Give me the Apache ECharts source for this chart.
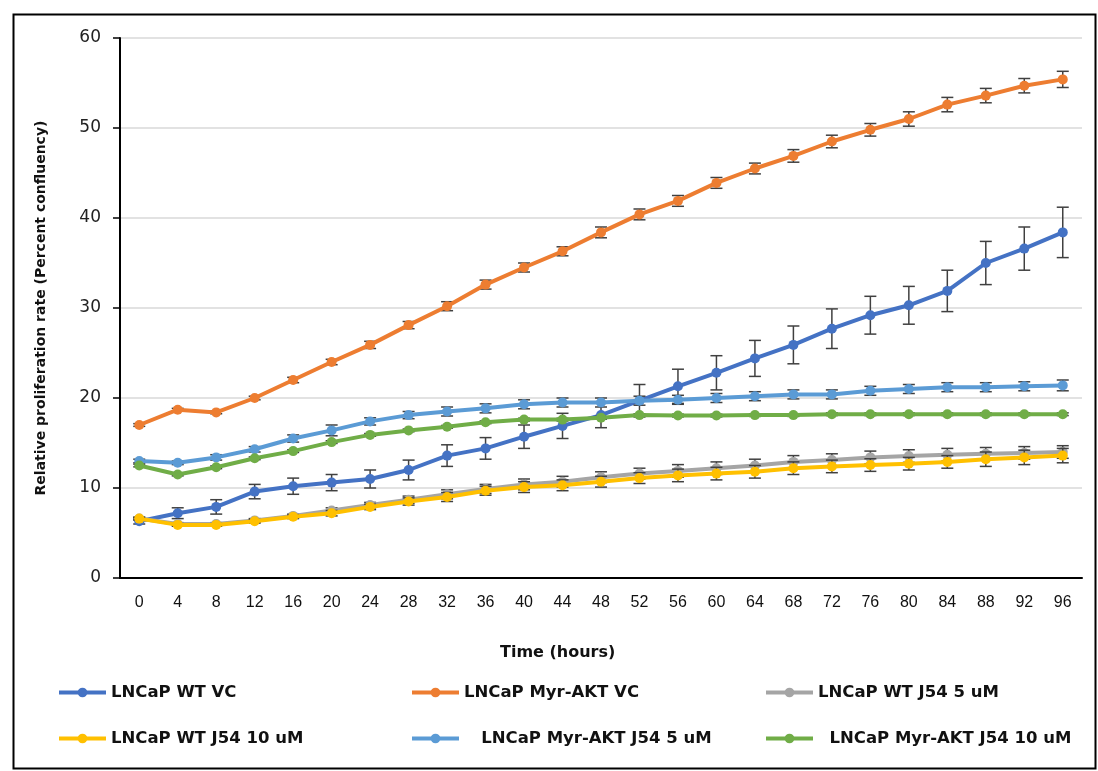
<!DOCTYPE html>
<html>
<head>
<meta charset="utf-8">
<script src="https://cdn.jsdelivr.net/npm/echarts@6/dist/echarts.min.js"></script>
<style>html,body{margin:0;padding:0;background:#fff;}#c{width:1098px;height:771px;}</style>
</head>
<body>
<div id="c"></div>
<script>
const hours = ['0','4','8','12','16','20','24','28','32','36','40','44','48','52','56','60','64','68','72','76','80','84','88','92','96'];
const yTicks = [0,10,20,30,40,50,60];

const wtVC      = [6.3,7.2,7.9,9.6,10.2,10.6,11.0,12.0,13.6,14.4,15.7,16.9,18.1,19.7,21.3,22.8,24.4,25.9,27.7,29.2,30.3,31.9,35.0,36.6,38.4];
const wtVCErr   = [0.3,0.6,0.8,0.8,0.9,0.9,1.0,1.1,1.2,1.2,1.3,1.4,1.4,1.8,1.9,1.9,2.0,2.1,2.2,2.1,2.1,2.3,2.4,2.4,2.8];
const myrVC     = [17.0,18.7,18.4,20.0,22.0,24.0,25.9,28.1,30.2,32.6,34.5,36.3,38.4,40.4,41.9,43.9,45.5,46.9,48.5,49.8,51.0,52.6,53.6,54.7,55.4];
const myrVCErr  = [0.15,0.15,0.15,0.2,0.3,0.3,0.4,0.4,0.5,0.5,0.5,0.5,0.6,0.6,0.6,0.6,0.6,0.7,0.7,0.7,0.8,0.8,0.8,0.8,0.9];
const wt5       = [6.6,6.0,6.0,6.4,6.9,7.5,8.1,8.7,9.3,9.9,10.4,10.7,11.2,11.6,11.9,12.2,12.5,12.9,13.1,13.4,13.55,13.7,13.8,13.9,14.0];
const wt5Err    = [0.15,0.15,0.15,0.2,0.2,0.3,0.3,0.4,0.5,0.5,0.6,0.6,0.6,0.6,0.7,0.7,0.7,0.7,0.7,0.7,0.7,0.7,0.7,0.7,0.7];
const wt10      = [6.6,5.9,5.9,6.3,6.8,7.2,7.9,8.5,9.0,9.7,10.1,10.3,10.7,11.1,11.4,11.6,11.8,12.2,12.4,12.55,12.7,12.9,13.2,13.4,13.6];
const wt10Err   = [0.15,0.15,0.15,0.2,0.2,0.3,0.3,0.4,0.5,0.5,0.6,0.6,0.6,0.6,0.7,0.7,0.7,0.7,0.7,0.7,0.7,0.7,0.8,0.8,0.8];
const myr5      = [13.0,12.8,13.4,14.3,15.5,16.4,17.4,18.1,18.5,18.85,19.3,19.5,19.5,19.7,19.8,20.0,20.2,20.4,20.4,20.8,21.0,21.2,21.2,21.3,21.4];
const myr5Err   = [0.2,0.2,0.3,0.3,0.4,0.6,0.4,0.4,0.5,0.5,0.5,0.5,0.5,0.5,0.5,0.5,0.5,0.5,0.5,0.5,0.5,0.5,0.5,0.5,0.6];
const myr10     = [12.5,11.5,12.3,13.3,14.1,15.1,15.9,16.4,16.8,17.3,17.6,17.6,17.8,18.1,18.05,18.05,18.1,18.1,18.2,18.2,18.2,18.2,18.2,18.2,18.2];
const myr10Err  = [0.15,0.15,0.15,0.15,0.15,0.15,0.15,0.15,0.15,0.15,0.15,0.15,0.15,0.15,0.15,0.15,0.15,0.15,0.15,0.15,0.15,0.15,0.15,0.15,0.15];

const names = ['LNCaP WT VC','LNCaP Myr-AKT VC','LNCaP WT J54 5 uM','LNCaP WT J54 10 uM','LNCaP Myr-AKT J54 5 uM','LNCaP Myr-AKT J54 10 uM'];
const colors = ['#4472C4','#ED7D31','#A5A5A5','#FFC000','#5B9BD5','#70AD47'];
const values = [wtVC, myrVC, wt5, wt10, myr5, myr10];
const errors = [wtVCErr, myrVCErr, wt5Err, wt10Err, myr5Err, myr10Err];

const chart = echarts.init(document.getElementById('c'), null, {renderer:'canvas'});

function errRender(params, api){
  const i = api.value(0), v = api.value(1), e = api.value(2);
  const top = api.coord([i, v + e]);
  const bot = api.coord([i, v - e]);
  const hw = 6;
  const st = {stroke:'#404040', lineWidth:1.5};
  return {type:'group', children:[
    {type:'line', shape:{x1:top[0], y1:top[1], x2:bot[0], y2:bot[1]}, style:st},
    {type:'line', shape:{x1:top[0]-hw, y1:top[1], x2:top[0]+hw, y2:top[1]}, style:st},
    {type:'line', shape:{x1:bot[0]-hw, y1:bot[1], x2:bot[0]+hw, y2:bot[1]}, style:st}
  ]};
}

const series = [];
names.forEach((n, k) => {
  series.push({
    type: 'custom', renderItem: errRender, silent: true, z: 2 + k*2,
    data: values[k].map((v, i) => [i, v, errors[k][i]]),
    encode: {x: 0, y: 1}, animation: false
  });
  series.push({
    name: n, type: 'line', data: values[k], symbol: 'circle', symbolSize: 10,
    itemStyle: {color: colors[k]}, lineStyle: {color: colors[k], width: 4},
    z: 3 + k*2, animation: false
  });
});

const legendPos = [
  {left: 57, top: 684, fmt: '{name}'},
  {left: 410, top: 684, fmt: '{name}'},
  {left: 764, top: 684, fmt: '{name}'},
  {left: 57, top: 730, fmt: '{name}'},
  {left: 410, top: 730, fmt: '   {name}'},
  {left: 764, top: 730, fmt: '  {name}'}
];
const legends = names.map((n, k) => ({
  data: [n], left: legendPos[k].left, top: legendPos[k].top, padding: 0,
  itemWidth: 47, itemHeight: 12, formatter: legendPos[k].fmt, selectedMode: false,
  lineStyle: {width: 4},
  textStyle: {fontFamily: 'DejaVu Sans', fontWeight: 'bold', fontSize: 16.5, color: '#111'}
}));

chart.setOption({
  backgroundColor: '#fff',
  animation: false,
  grid: {left: 120, right: 16, top: 38, bottom: 193},
  legend: legends,
  xAxis: {
    type: 'category', data: hours, boundaryGap: true,
    axisLine: {lineStyle: {color: '#000', width: 2}},
    axisTick: {show: false},
    axisLabel: {margin: 17, fontFamily: 'Liberation Sans Narrow, Liberation Sans, sans-serif', fontSize: 16, color: '#111', interval: 0}
  },
  yAxis: {
    type: 'value', min: 0, max: 60, interval: 10,
    name: 'Relative proliferation rate (Percent confluency)', nameLocation: 'middle', nameGap: 72,
    nameTextStyle: {fontFamily: 'DejaVu Sans', fontWeight: 'bold', fontSize: 14, color: '#111'},
    axisLine: {show: true, lineStyle: {color: '#000', width: 2}},
    axisTick: {show: true, length: 7, lineStyle: {color: '#000', width: 1.5}},
    axisLabel: {margin: 19, fontFamily: 'DejaVu Sans', fontSize: 17, fontWeight: 500, color: '#222',
      formatter: v => yTicks.includes(v) ? String(v) : ''},
    splitLine: {lineStyle: {color: '#d9d9d9', width: 1.5}}
  },
  graphic: [
    {type: 'rect', left: 11, top: 12, shape: {x: 0, y: 0, width: 1082, height: 754},
     style: {fill: 'none', stroke: '#000', lineWidth: 2}, z: -1, silent: true},
    {type: 'text', left: 500, top: 645, style: {text: 'Time (hours)', fontFamily: 'DejaVu Sans', fontWeight: 'bold', fontSize: 16, fill: '#111'}}
  ],
  series: series
});
</script>
</body>
</html>
